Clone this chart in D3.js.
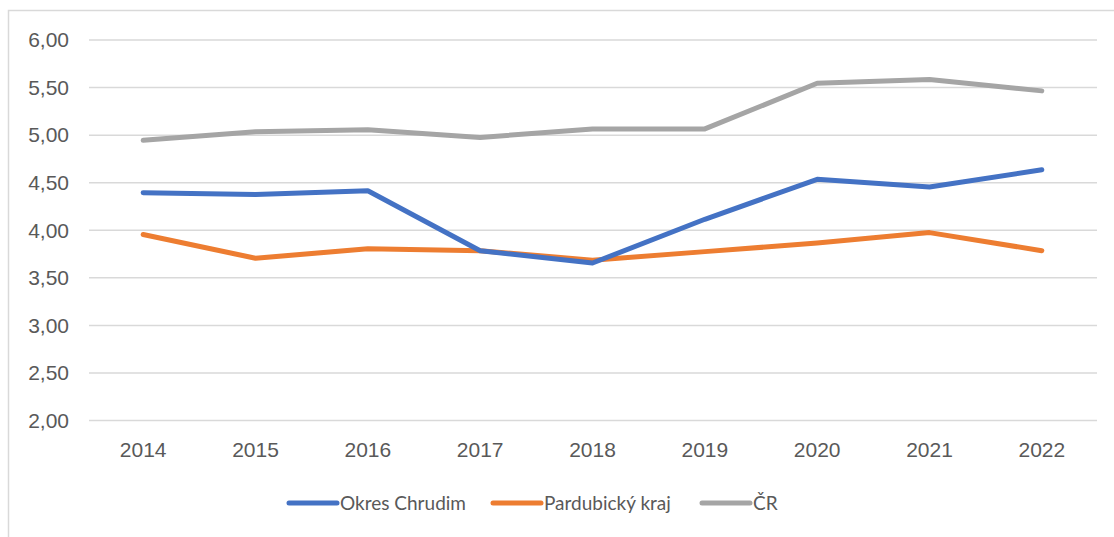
<!DOCTYPE html>
<html>
<head>
<meta charset="utf-8">
<script src="https://cdn.jsdelivr.net/npm/d3@7"></script>
<style>
  body { margin: 0; background: #fff; }
  svg { display: block; font-family: Lato, "Open Sans", sans-serif; }
</style>
</head>
<body>
<svg id="chart" width="1114" height="537"></svg>
<script>
var years = ["2014", "2015", "2016", "2017", "2018", "2019", "2020", "2021", "2022"];
var chrudim = [4.39, 4.37, 4.41, 3.78, 3.65, 4.11, 4.53, 4.45, 4.63];
var pardubicky = [3.95, 3.70, 3.80, 3.78, 3.68, 3.77, 3.86, 3.97, 3.78];
var cr = [4.94, 5.03, 5.05, 4.97, 5.06, 5.06, 5.54, 5.58, 5.46];
var seriesNames = ["Okres Chrudim", "Pardubický kraj", "ČR"];
var seriesColors = ["#4472C4", "#ED7D31", "#A5A5A5"];
var yTicks = [2, 2.5, 3, 3.5, 4, 4.5, 5, 5.5, 6];

var width = 1114,
  height = 537;
var svg = d3.select("#chart");

// chart frame (only top and left edges are in view)
svg.append("path")
  .attr("d", "M8.5,537 V10.5 H1114")
  .attr("fill", "none")
  .attr("stroke", "#D9D9D9")
  .attr("stroke-width", 1.5);

var x = d3.scaleBand().domain(years).range([87, 1098]);
var y = d3.scaleLinear().domain([2, 6]).range([420, 39.5]);

var fmt = function (d) {
  return d3.format(".2f")(d).replace(".", ",");
};

// gridlines + y labels
var yAxis = svg.append("g")
  .attr("transform", "translate(89,0)")
  .call(d3.axisLeft(y).tickValues(yTicks).tickSize(-1008).tickFormat(fmt).tickPadding(20));
yAxis.select(".domain").remove();
yAxis.selectAll("line").attr("stroke", "#D9D9D9").attr("stroke-width", 1.5);
yAxis.selectAll("text")
  .attr("fill", "#595959")
  .style("font-size", "21px")
  .attr("dy", "0.35em");

// x labels
var xAxis = svg.append("g")
  .attr("transform", "translate(0,420)")
  .call(d3.axisBottom(x).tickSize(0).tickPadding(22));
xAxis.select(".domain").remove();
xAxis.selectAll("text")
  .attr("fill", "#595959")
  .style("font-size", "21px");

var all = [chrudim, pardubicky, cr];
var line = d3.line()
  .x(function (d, i) { return x(years[i]) + x.bandwidth() / 2; })
  .y(function (d) { return y(d); });

// draw gray first so blue/orange sit on top
[2, 1, 0].forEach(function (k) {
  svg.append("path")
    .datum(all[k])
    .attr("d", line)
    .attr("fill", "none")
    .attr("stroke", seriesColors[k])
    .attr("stroke-width", 5)
    .attr("stroke-linecap", "round")
    .attr("stroke-linejoin", "round");
});

// legend
var legendX = [289, 493, 702];
var legend = svg.append("g").attr("transform", "translate(0,503)");
seriesNames.forEach(function (name, i) {
  var g = legend.append("g").attr("transform", "translate(" + legendX[i] + ",0)");
  g.append("line")
    .attr("x1", 0).attr("x2", 48)
    .attr("y1", 0).attr("y2", 0)
    .attr("stroke", seriesColors[i])
    .attr("stroke-width", 5)
    .attr("stroke-linecap", "round");
  g.append("text")
    .attr("x", 51)
    .attr("dy", "0.35em")
    .attr("fill", "#595959")
    .style("font-size", "19px")
    .text(name);
});
</script>
</body>
</html>
